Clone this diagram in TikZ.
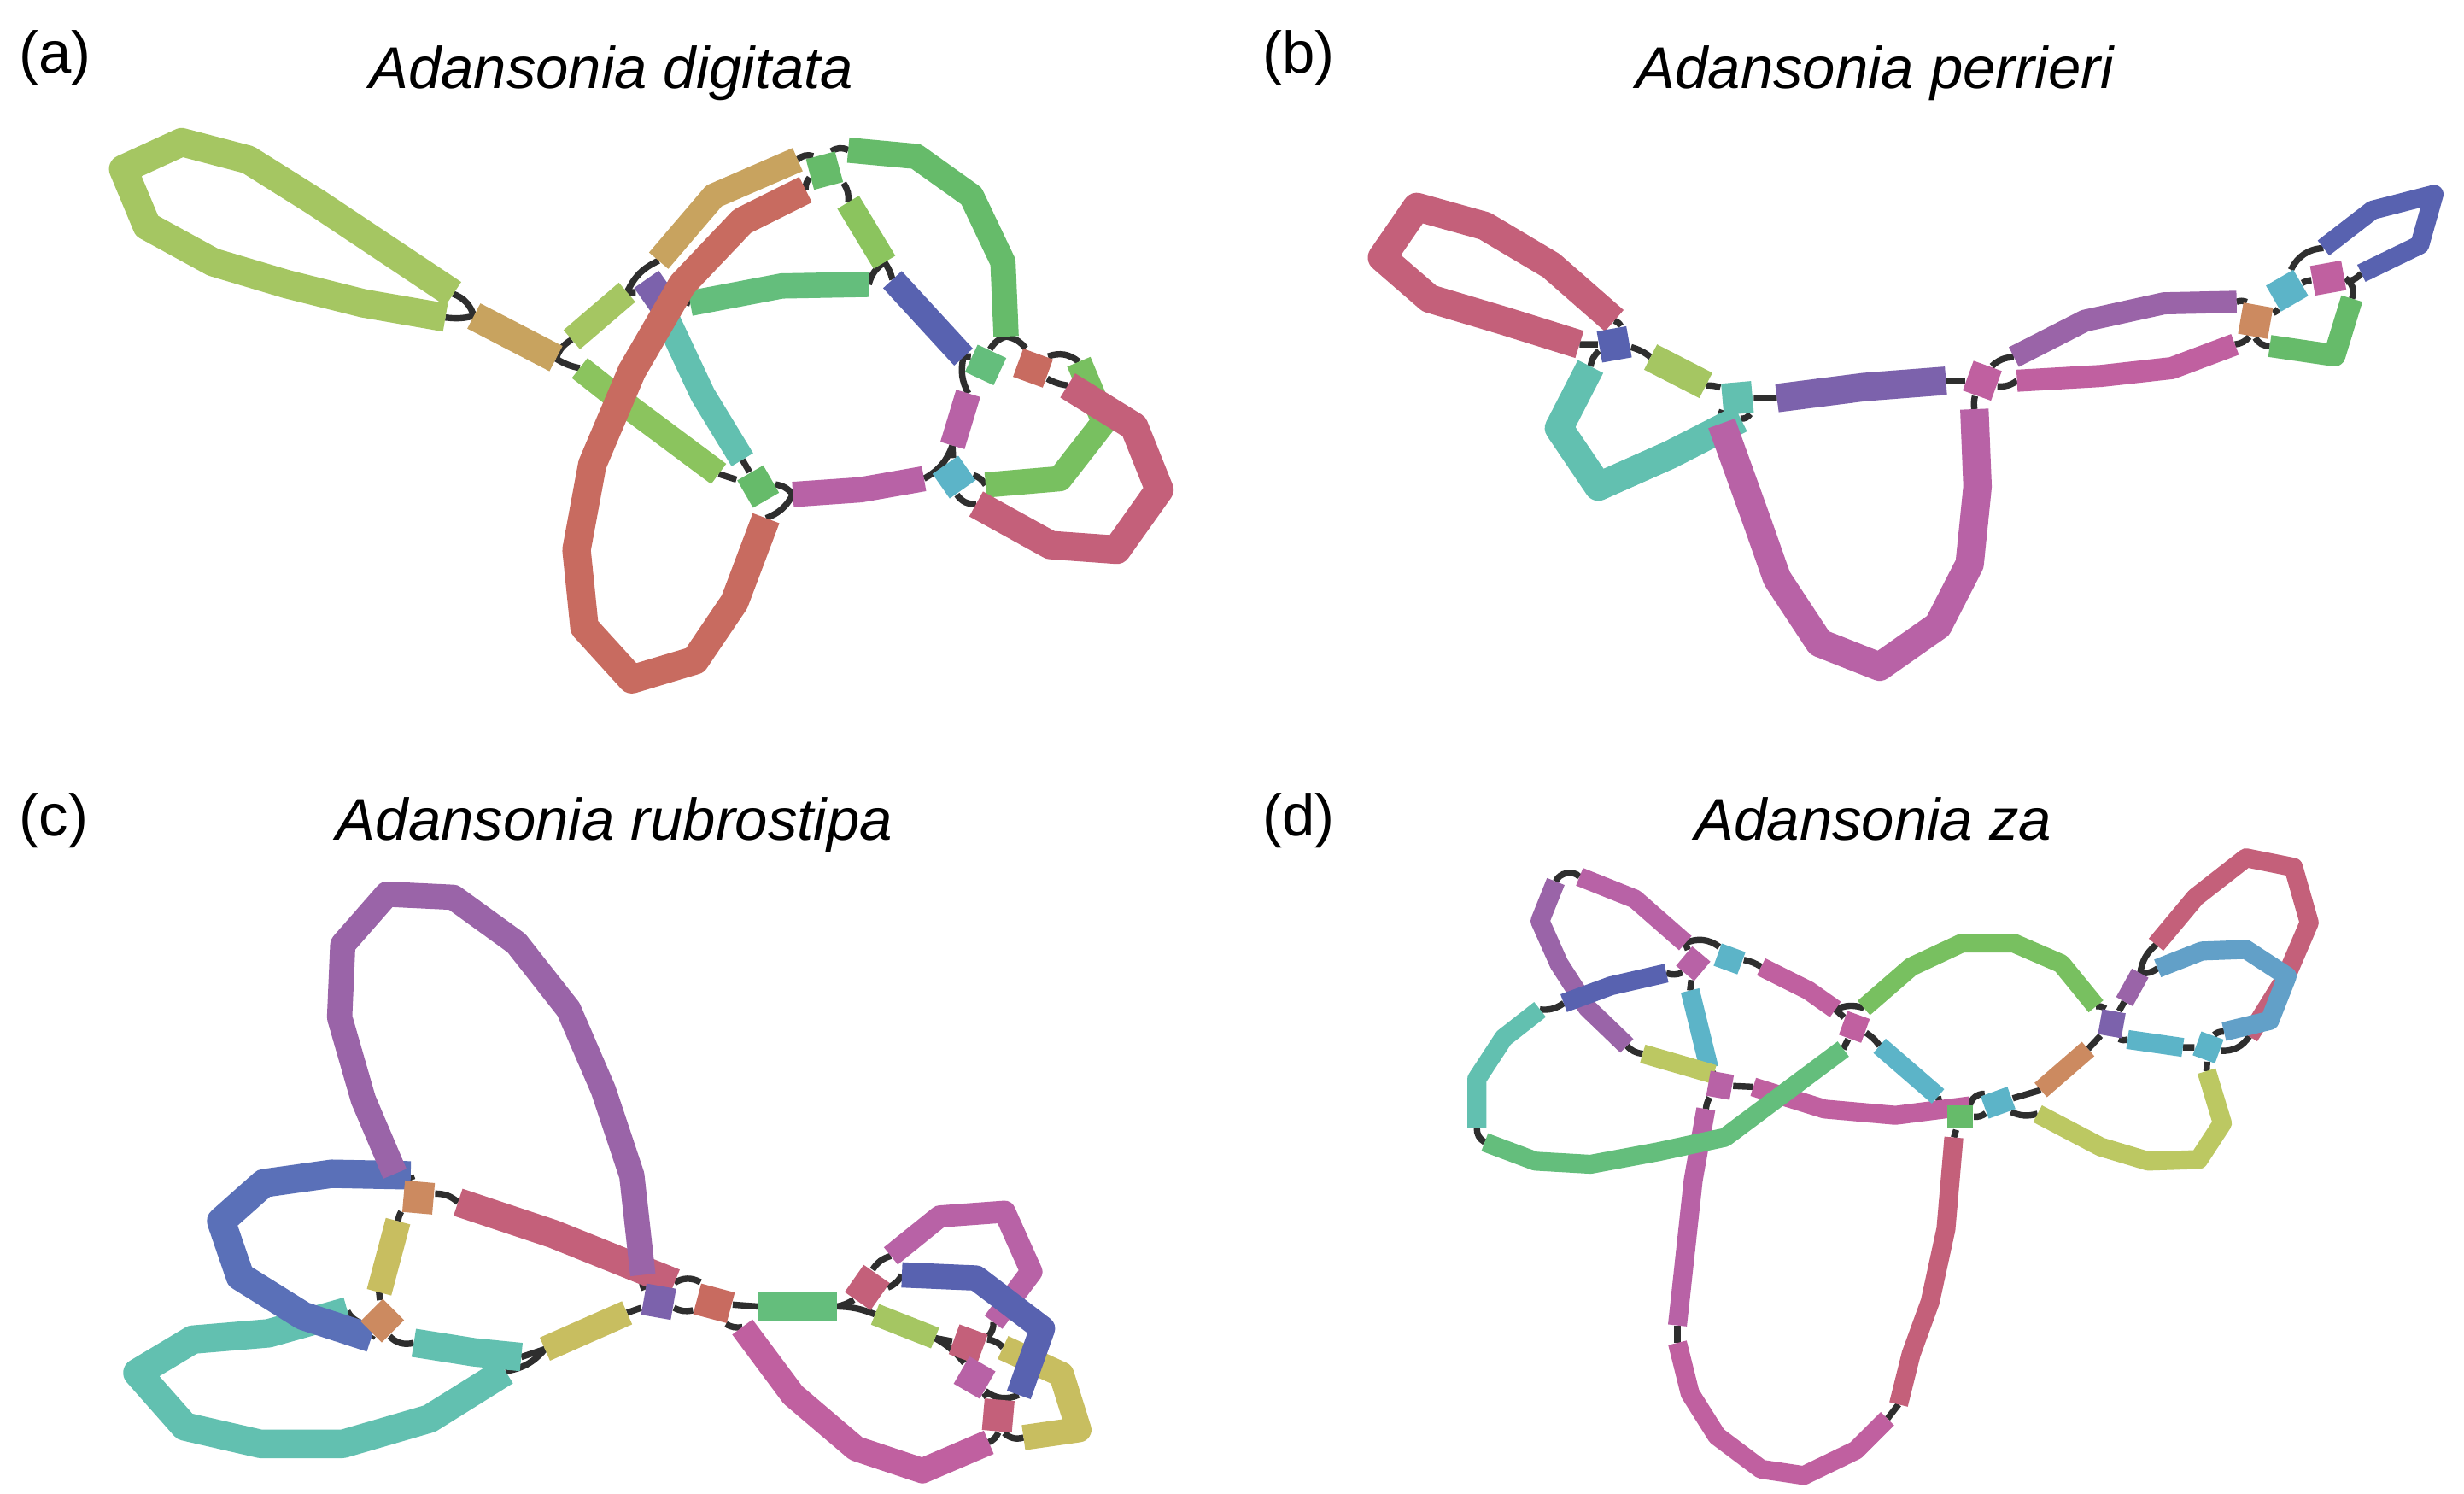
\documentclass[tikz,border=0pt]{standalone}
\usepackage{fontspec}
\setmainfont{Liberation Sans}
\pgfdeclarelayer{back}
\pgfdeclarelayer{bg}
\pgfsetlayers{back,bg,main}
\definecolor{cLime}{HTML}{A5C662}
\definecolor{cTan}{HTML}{C8A35F}
\definecolor{cLGreen}{HTML}{8BC45E}
\definecolor{cGreen}{HTML}{66BB6A}
\definecolor{cGreenB}{HTML}{64BE7C}
\definecolor{cGreenL}{HTML}{78C060}
\definecolor{cRed}{HTML}{C86B60}
\definecolor{cPink}{HTML}{C4607A}
\definecolor{cMag}{HTML}{B862A6}
\definecolor{cMagB}{HTML}{C060A0}
\definecolor{cPurple}{HTML}{7C62AC}
\definecolor{cViolet}{HTML}{9A64A8}
\definecolor{cBlue}{HTML}{5862B0}
\definecolor{cBlueB}{HTML}{5A70B8}
\definecolor{cTeal}{HTML}{62C0B0}
\definecolor{cCyan}{HTML}{5CB4C8}
\definecolor{cOlive}{HTML}{C8BE60}
\definecolor{cOrange}{HTML}{CC8A60}
\definecolor{cLBlue}{HTML}{62A0C8}
\definecolor{cYG}{HTML}{BCC862}
\tikzset{
 segw/.style={line width=1.8mm, line cap=butt, line join=round},
 seg/.style={line width=1.6mm, line cap=butt, line join=round},
 segb/.style={line width=1.4mm, line cap=butt, line join=round},
 segn/.style={line width=1.2mm, line cap=butt, line join=round},
 con/.style={draw=black!82, line width=0.4mm},
 sq/.style={inner sep=0pt, minimum width=2.0mm, minimum height=1.9mm, draw=none},
 sqn/.style={inner sep=0pt, minimum width=1.6mm, minimum height=1.5mm, draw=none},
 lab/.style={font=\fontsize{10.6}{12}\selectfont, anchor=base},
 ttl/.style={font=\fontsize{10.6}{12}\selectfont\itshape, anchor=base},
}
\begin{document}
\begin{tikzpicture}[x=0.1mm,y=-0.1mm]
\begin{pgfonlayer}{back}
\fill[white] (0,0) rectangle (1560,945.7);
\end{pgfonlayer}
\useasboundingbox (0,0) rectangle (1560,945.7);
% ---------- titles ----------
\node[lab] (la) at (35,46) {(a)};
\node[ttl] (ta) at (387,56) {Adansonia digitata};
\node[lab] (lb) at (822,46) {(b)};
\node[ttl] (tb) at (1187,56) {Adansonia perrieri};
\node[lab] (lc) at (34,529) {(c)};
\node[ttl] (tc) at (389,532) {Adansonia rubrostipa};
\node[lab] (ld) at (822,529) {(d)};
\node[ttl] (td) at (1186,532) {Adansonia za};
% ---------- panel (a) ----------
\draw[segw,cLime] (287,186) coordinate(aL1) -- (200,128) -- (157,101) -- (115,90) -- (78,107) -- (93,143) -- (135,166) -- (182,180) -- (230,192) -- (282,201) coordinate(aL2);
\draw[segw,cTan] (300,200) coordinate(aT1s) -- (352,227) coordinate(aT1e);
\draw[seg,cLime] (362,215) coordinate(aG1s) -- (397,185) coordinate(aG1e);
\draw[seg,cLGreen] (367,233) coordinate(aG2s) -- (400,259) -- (455,300) coordinate(aG2e);
\draw[seg,cTan] (417,165) coordinate(aT2s) -- (452,124) -- (505,101) coordinate(aT2e);
\node[sq,fill=cPurple,rotate=-55] (aP) at (415,185) {};
\draw[seg,cGreen] (537,95) coordinate(aGt1) -- (580,99) -- (615,124) -- (635,166) -- (637,213) coordinate(aGt2);
\node[sq,fill=cGreen,rotate=-75] (aS1) at (522,108) {};
\draw[seg,cLGreen] (537,128) coordinate(aG3s) -- (560,166) coordinate(aG3e);
\draw[seg,cGreenB] (550,180) coordinate(aH1) -- (495,181) -- (437,192) coordinate(aH2);
\draw[seg,cBlue] (565,177) coordinate(aB1) -- (610,226) coordinate(aB2);
\draw[seg,cTeal] (422,201) coordinate(aC1) -- (445,250) -- (470,291) coordinate(aC2);
\node[sq,fill=cGreen,rotate=-60] (aS2) at (480,308) {};
\draw[seg,cMag] (502,313) coordinate(aM1) -- (545,310) -- (585,303) coordinate(aM2);
\node[sq,fill=cGreenB,rotate=-25] (aS3) at (624,231) {};
\node[sq,fill=cRed,rotate=-20] (aS4) at (654,233) {};
\draw[seg,cMag] (613,249) coordinate(aM3) -- (603,282) coordinate(aM4);
\node[sq,fill=cCyan,rotate=35] (aS5) at (604,302) {};
\draw[seg,cGreenL] (683,229) coordinate(aGr1) -- (699,267) -- (671,303) -- (624,307) coordinate(aGr2);
\draw[segw,cPink] (676,244) coordinate(aK1) -- (718,270) -- (734,310) -- (707,348) -- (665,345) -- (618,319) coordinate(aK2);
\draw[segw,cRed] (510,120) coordinate(aR1) -- (470,140) -- (432,180) -- (400,235) -- (375,294) -- (365,348) -- (370,397) -- (400,430) -- (440,418) -- (465,381) -- (485,328) coordinate(aR2);
\begin{pgfonlayer}{bg}
\draw[con] (aL1) to[bend left=25] (aT1s);
\draw[con] (aL2) to[bend right=10] (aT1s);
\draw[con] (aT1e) to[bend left=20] (aG1s);
\draw[con] (aT1e) to[bend right=10] (aG2s);
\draw[con] (aG1e) to[bend left=20] (aT2s);
\draw[con] (aG1e) -- (aP);
\draw[con] (aP) -- (aC1);
\draw[con] (aP) -- (aH2);
\draw[con] (aT2e) to[bend left=30] (aS1);
\draw[con] (aS1) to[bend left=30] (aGt1);
\draw[con] (aS1) to[bend right=20] (aR1);
\draw[con] (aS1) to[bend left=20] (aG3s);
\draw[con] (aG3e) to[bend right=20] (aH1);
\draw[con] (aG3e) to[bend left=10] (aB1);
\draw[con] (aB2) to[bend left=10] (aS3);
\draw[con] (aB2) to[bend right=20] (aM3);
\draw[con] (aGt2) to[bend right=20] (aS3);
\draw[con] (aGt2) to[bend left=20] (aS4);
\draw[con] (aS4) to[bend left=30] (aGr1);
\draw[con] (aS4) to[bend right=10] (aK1);
\draw[con] (aM4) -- (aS5);
\draw[con] (aM4) to[bend left=20] (aM2);
\draw[con] (aS5) to[bend left=20] (aGr2);
\draw[con] (aS5) to[bend right=30] (aK2);
\draw[con] (aM1) to[bend right=20] (aS2);
\draw[con] (aM1) to[bend left=20] (aR2);
\draw[con] (aS2) -- (aC2);
\draw[con] (aS2) -- (aG2e);
\end{pgfonlayer}
% ---------- panel (b) ----------
\draw[segw,cPink] (1000,218) coordinate(bL1) -- (952,203) -- (905,189) -- (875,163) -- (897,131) -- (940,143) -- (982,168) -- (1022,203) coordinate(bL2);
\node[sq,fill=cBlue,rotate=-80] (bS1) at (1022,218) {};
\draw[segw,cLime] (1045,226) coordinate(bG1) -- (1080,244) coordinate(bG2);
\draw[segw,cTeal] (1007,232) coordinate(bT1) -- (987,271) -- (1012,308) -- (1057,288) -- (1102,265) coordinate(bT2);
\node[sq,fill=cTeal,rotate=-85] (bS2) at (1100,252) {};
\draw[segw,cPurple] (1125,252) coordinate(bP1) -- (1180,245) -- (1232,241) coordinate(bP2);
\draw[segw,cMag] (1090,268) coordinate(bM1) -- (1112,329) -- (1125,366) -- (1152,407) -- (1190,422) -- (1227,396) -- (1247,357) -- (1252,308) -- (1250,259) coordinate(bM2);
\node[sq,fill=cMagB,rotate=70] (bS3) at (1255,241) {};
\draw[segb,cViolet] (1275,226) coordinate(bV1) -- (1320,203) -- (1370,192) -- (1416,191) coordinate(bV2);
\draw[segb,cMagB] (1277,241) coordinate(bQ1) -- (1330,238) -- (1375,233) -- (1415,218) coordinate(bQ2);
\node[sq,fill=cOrange,rotate=80] (bS4) at (1428,203) {};
\node[sq,fill=cCyan,rotate=30] (bS5) at (1448,184) {};
\node[sq,fill=cMagB,rotate=10] (bS6) at (1474,176) {};
\draw[segn,cBlue] (1471,157) coordinate(bB1) -- (1502,133) -- (1541,123) -- (1532,155) -- (1495,173) coordinate(bB2);
\draw[segb,cGreen] (1489,189) coordinate(bN1) -- (1478,225) -- (1437,219) coordinate(bN2);
\begin{pgfonlayer}{bg}
\draw[con] (bL1) -- (bS1);
\draw[con] (bL2) to[bend left=20] (bS1);
\draw[con] (bS1) to[bend left=10] (bG1);
\draw[con] (bS1) to[bend right=20] (bT1);
\draw[con] (bG2) to[bend left=10] (bS2);
\draw[con] (bS2) -- (bP1);
\draw[con] (bS2) to[bend left=30] (bT2);
\draw[con] (bS2) to[bend right=20] (bM1);
\draw[con] (bP2) -- (bS3);
\draw[con] (bS3) to[bend right=10] (bM2);
\draw[con] (bS3) to[bend left=20] (bV1);
\draw[con] (bS3) to[bend right=20] (bQ1);
\draw[con] (bV2) to[bend left=20] (bS4);
\draw[con] (bQ2) to[bend right=20] (bS4);
\draw[con] (bS4) to[bend right=20] (bS5);
\draw[con] (bS4) to[bend right=30] (bN2);
\draw[con] (bS5) to[bend left=30] (bB1);
\draw[con] (bS5) to[bend left=10] (bS6);
\draw[con] (bS6) to[bend right=20] (bB2);
\draw[con] (bS6) to[bend left=40] (bN1);
\end{pgfonlayer}
% ---------- panel (c) ----------
\draw[segw,cTeal] (220,830) coordinate(cT1) -- (170,844) -- (122,848) -- (87,869) -- (117,903) -- (165,914) -- (217,914) -- (272,898) -- (320,868) coordinate(cT2);
\draw[segw,cBlueB] (260,744) coordinate(cB1) -- (210,743) -- (167,749) -- (140,773) -- (152,808) -- (192,833) -- (235,847) coordinate(cB2);
\node[sq,fill=cOrange,rotate=85] (cS1) at (265,758) {};
\draw[segw,cPink] (290,761) coordinate(cR1) -- (350,781) -- (427,812) coordinate(cR2);
\draw[seg,cViolet] (250,743) coordinate(cP1) -- (230,696) -- (215,644) -- (217,598) -- (245,566) -- (287,568) -- (327,597) -- (360,639) -- (382,690) -- (400,744) -- (407,807) coordinate(cP2);
\draw[seg,cOlive] (252,773) coordinate(cO1) -- (240,818) coordinate(cO2);
\node[sq,fill=cOrange,rotate=45] (cS2) at (242,836) {};
\draw[segw,cTeal] (262,850) coordinate(cT3) -- (300,856) -- (330,859) coordinate(cT4);
\draw[seg,cOlive] (345,854) coordinate(cO3) -- (397,831) coordinate(cO4);
\node[sq,fill=cPurple,rotate=80] (cS3) at (417,824) {};
\node[sq,fill=cRed,minimum width=2.2mm,minimum height=2.0mm,rotate=-15] (cS4) at (452,825) {};
\draw[segw,cGreenB] (480,827) coordinate(cG1) -- (530,827) coordinate(cG2);
\draw[seg,cMagB] (470,840) coordinate(cM1) -- (502,883) -- (542,917) -- (584,931) -- (626,913) coordinate(cM2);
\node[sq,fill=cPink,minimum width=2.1mm,minimum height=2.0mm,rotate=55] (cS5) at (549,815) {};
\draw[segb,cMag] (564,795) coordinate(cU1) -- (595,770) -- (636,767) -- (653,805) -- (629,837) coordinate(cU2);
\draw[seg,cOlive] (635,853) coordinate(cY1) -- (672,870) -- (683,905) -- (648,910) coordinate(cY2);
\draw[seg,cBlue] (571,807) coordinate(cB3) -- (618,809) -- (660,841) -- (645,883) coordinate(cB4);
\draw[segb,cLime] (554,832) coordinate(cL1) -- (592,847) coordinate(cL2);
\node[sq,fill=cPink,rotate=70] (cS6) at (613,851) {};
\node[sq,fill=cMag,rotate=60] (cS7) at (617,872) {};
\node[sq,fill=cPink,rotate=85] (cS8) at (632,896) {};
\begin{pgfonlayer}{bg}
\draw[con] (cP1) -- (cS1);
\draw[con] (cB1) -- (cS1);
\draw[con] (cS1) to[bend left=20] (cR1);
\draw[con] (cS1) to[bend right=10] (cO1);
\draw[con] (cO2) -- (cS2);
\draw[con] (cS2) -- (cB2);
\draw[con] (cS2) to[bend left=20] (cT1);
\draw[con] (cS2) to[bend right=30] (cT3);
\draw[con] (cT4) -- (cO3);
\draw[con] (cT2) to[bend right=20] (cO3);
\draw[con] (cO4) -- (cS3);
\draw[con] (cS3) to[bend left=20] (cP2);
\draw[con] (cR2) to[bend left=30] (cS4);
\draw[con] (cS3) to[bend right=20] (cS4);
\draw[con] (cS4) -- (cG1);
\draw[con] (cS4) to[bend right=20] (cM1);
\draw[con] (cG2) to[bend right=10] (cS5);
\draw[con] (cG2) to[bend left=10] (cL1);
\draw[con] (cS5) to[bend left=20] (cU1);
\draw[con] (cS5) to[bend right=20] (cB3);
\draw[con] (cL2) -- (cS6);
\draw[con] (cL2) to[bend left=10] (cS7);
\draw[con] (cS6) to[bend right=20] (cU2);
\draw[con] (cS6) to[bend left=20] (cY1);
\draw[con] (cS7) to[bend right=30] (cB4);
\draw[con] (cS7) -- (cS8);
\draw[con] (cS8) to[bend left=20] (cM2);
\draw[con] (cS8) to[bend right=30] (cY2);
\end{pgfonlayer}
% ---------- panel (d) ----------
\draw[segn,cViolet] (985,558) coordinate(dA1) -- (975,583) -- (987,610) -- (1005,638) -- (1030,662) coordinate(dA2);
\draw[segn,cMag] (1000,555) coordinate(dB1) -- (1035,569) -- (1067,597) coordinate(dB2);
\node[sqn,fill=cMag,rotate=50] (dS1) at (1072,610) {};
\node[sqn,fill=cCyan,rotate=-20] (dS2) at (1095,607) {};
\draw[segn,cMagB] (1115,612) coordinate(dC1) -- (1145,627) -- (1162,639) coordinate(dC2);
\draw[segn,cBlue] (990,635) coordinate(dD1) -- (1020,624) -- (1055,616) coordinate(dD2);
\draw[segn,cCyan] (1070,627) coordinate(dE1) -- (1082,676) coordinate(dE2);
\draw[segn,cTeal] (975,639) coordinate(dF1) -- (952,657) -- (935,683) -- (935,714) coordinate(dF2);
\draw[segn,cYG] (1040,667) coordinate(dH1) -- (1085,680) coordinate(dH2);
\node[sqn,fill=cMag,rotate=80] (dS3) at (1089,687) {};
\draw[segn,cMagB] (1110,688) coordinate(dI1) -- (1155,702) -- (1200,706) -- (1247,700) coordinate(dI2);
\draw[segn,cMag] (1080,702) coordinate(dJ1) -- (1072,747) -- (1067,793) -- (1062,839) coordinate(dJ2);
\draw[segn,cMagB] (1062,850) coordinate(dK1) -- (1070,882) -- (1087,909) -- (1115,930) -- (1142,934) -- (1175,918) -- (1195,898) coordinate(dK2);
\draw[segn,cPink] (1237,720) coordinate(dL1) -- (1232,778) -- (1222,824) -- (1210,857) -- (1202,889) coordinate(dL2);
\draw[segn,cGreenB] (940,723) coordinate(dG1) -- (972,735) -- (1007,737) -- (1050,729) -- (1092,720) -- (1167,664) coordinate(dG2);
\node[sqn,fill=cGreen] (dS4) at (1241,707) {};
\node[sqn,fill=cMagB,rotate=70] (dS5) at (1174,650) {};
\draw[segn,cGreenL] (1180,638) coordinate(dM1) -- (1210,612) -- (1242,597) -- (1275,597) -- (1305,610) -- (1327,637) coordinate(dM2);
\draw[segn,cCyan] (1190,662) coordinate(dN1) -- (1227,694) coordinate(dN2);
\node[sqn,fill=cCyan,minimum width=1.8mm,minimum height=1.5mm,rotate=20] (dS6) at (1265,698) {};
\draw[segn,cOrange] (1292,690) coordinate(dO1) -- (1322,664) coordinate(dO2);
\draw[segn,cYG] (1290,705) coordinate(dP1) -- (1330,726) -- (1360,735) -- (1392,734) -- (1407,711) -- (1397,678) coordinate(dP2);
\node[sqn,fill=cPurple,rotate=80] (dS7) at (1337,648) {};
\draw[segn,cViolet] (1355,616) coordinate(dQ1) -- (1345,634) coordinate(dQ2);
\draw[segn,cPink] (1365,598) coordinate(dR1) -- (1390,568) -- (1422,543) -- (1452,549) -- (1462,584) -- (1447,619) -- (1424,656) coordinate(dR2);
\draw[segn,cLBlue] (1366,613) coordinate(dU1) -- (1394,602) -- (1422,601) -- (1448,618) -- (1437,646) -- (1408,653) coordinate(dU2);
\draw[segn,cCyan] (1347,658) coordinate(dV1) -- (1382,663) coordinate(dV2);
\node[sqn,fill=cCyan,rotate=70] (dS8) at (1398,663) {};
\begin{pgfonlayer}{bg}
\draw[con] (dA1) to[bend left=60] (dB1);
\draw[con] (dB2) -- (dS1);
\draw[con] (dB2) to[bend left=30] (dS2);
\draw[con] (dS1) -- (dE1);
\draw[con] (dS1) to[bend left=20] (dD2);
\draw[con] (dS2) to[bend left=10] (dC1);
\draw[con] (dC2) -- (dS5);
\draw[con] (dC2) to[bend left=20] (dM1);
\draw[con] (dS5) -- (dG2);
\draw[con] (dS5) to[bend left=10] (dN1);
\draw[con] (dD1) to[bend left=20] (dF1);
\draw[con] (dF2) to[bend right=30] (dG1);
\draw[con] (dA2) to[bend right=20] (dH1);
\draw[con] (dH2) -- (dS3);
\draw[con] (dE2) -- (dS3);
\draw[con] (dS3) -- (dI1);
\draw[con] (dS3) to[bend right=10] (dJ1);
\draw[con] (dJ2) -- (dK1);
\draw[con] (dK2) -- (dL2);
\draw[con] (dL1) -- (dS4);
\draw[con] (dN2) to[bend right=20] (dS4);
\draw[con] (dI2) to[bend left=40] (dS6);
\draw[con] (dS4) to[bend right=20] (dS6);
\draw[con] (dS6) -- (dO1);
\draw[con] (dS6) to[bend right=20] (dP1);
\draw[con] (dO2) -- (dS7);
\draw[con] (dS7) to[bend right=20] (dM2);
\draw[con] (dS7) -- (dQ2);
\draw[con] (dS7) to[bend right=20] (dV1);
\draw[con] (dQ1) to[bend left=20] (dR1);
\draw[con] (dQ1) to[bend right=20] (dU1);
\draw[con] (dV2) -- (dS8);
\draw[con] (dS8) -- (dP2);
\draw[con] (dS8) to[bend left=20] (dU2);
\draw[con] (dS8) to[bend right=30] (dR2);
\end{pgfonlayer}
\end{tikzpicture}
\end{document}
